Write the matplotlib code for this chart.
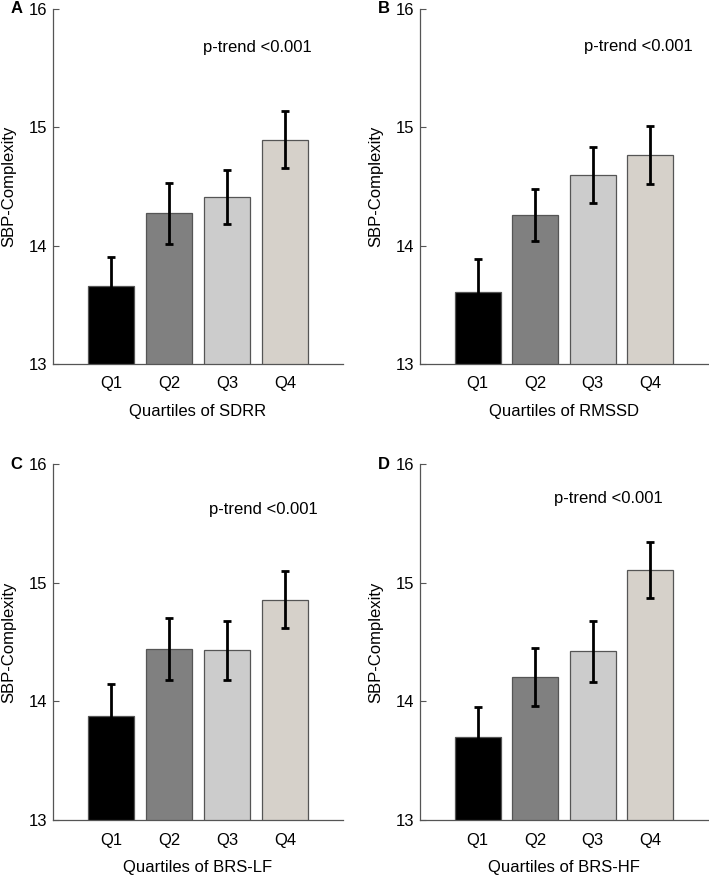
import numpy as np
import matplotlib.pyplot as plt

plt.rcParams['font.family'] = ['Liberation Sans', 'DejaVu Sans']

quartiles = ['Q1', 'Q2', 'Q3', 'Q4']
panel_letters = ['A', 'B', 'C', 'D']
x_labels = ['Quartiles of SDRR', 'Quartiles of RMSSD', 'Quartiles of BRS-LF', 'Quartiles of BRS-HF']

# mean SBP-Complexity per quartile and error (half-length of bar)
means_sdrr = [13.655, 14.272, 14.412, 14.896]
err_sdrr = [0.253, 0.261, 0.226, 0.238]
means_rmssd = [13.608, 14.258, 14.594, 14.762]
err_rmssd = [0.28, 0.217, 0.237, 0.245]
means_brslf = [13.876, 14.438, 14.430, 14.857]
err_brslf = [0.267, 0.262, 0.250, 0.241]
means_brshf = [13.70, 14.205, 14.421, 15.110]
err_brshf = [0.255, 0.247, 0.260, 0.236]

p_text = 'p-trend <0.001'
p_pos = [(3.53, 15.67), (3.80, 15.68), (3.62, 15.62), (3.27, 15.71)]

bar_colors = ['#000000', '#808080', '#cccccc', '#d6d1ca']

fig = plt.figure(figsize=(7.09, 8.76), dpi=100)

# axes rectangles [left, bottom, width, height] in figure fraction
rects = [
    [0.0748, 0.5845, 0.409, 0.4053],
    [0.5924, 0.5845, 0.406, 0.4053],
    [0.0748, 0.0639, 0.409, 0.4064],
    [0.5924, 0.0639, 0.406, 0.4064],
]
all_means = [means_sdrr, means_rmssd, means_brslf, means_brshf]
all_errs = [err_sdrr, err_rmssd, err_brslf, err_brshf]

x = np.arange(1, 5)
for i in range(4):
    ax = fig.add_axes(rects[i])
    ax.bar(x, all_means[i], width=0.8, color=bar_colors, edgecolor='#555555', linewidth=0.9, zorder=2)
    ax.errorbar(x, all_means[i], yerr=all_errs[i], fmt='none', ecolor='black',
                elinewidth=2, capsize=2.8, capthick=2, zorder=3)
    ax.set_xlim(0, 5)
    ax.set_ylim(13, 16)
    ax.set_yticks([13, 14, 15, 16])
    ax.set_xticks(x)
    ax.set_xticklabels(quartiles)
    ax.tick_params(direction='in', length=4, width=0.8, color='#555555', labelsize=12)
    ax.tick_params(axis='y', pad=4)
    ax.tick_params(axis='x', pad=9)
    for side in ['top', 'right']:
        ax.spines[side].set_visible(False)
    for side in ['left', 'bottom']:
        ax.spines[side].set_color('#555555')
        ax.spines[side].set_linewidth(0.9)
    ax.set_ylabel('SBP-Complexity', fontsize=12, labelpad=9)
    ax.set_xlabel(x_labels[i], fontsize=12, labelpad=9)
    ax.text(p_pos[i][0], p_pos[i][1], p_text, ha='center', va='center', fontsize=12)
    # panel letter
    ax.text(-0.125, 1.0, panel_letters[i], transform=ax.transAxes, ha='center', va='center',
            fontsize=12, fontweight='bold')

fig.savefig('out.png', dpi=100)
